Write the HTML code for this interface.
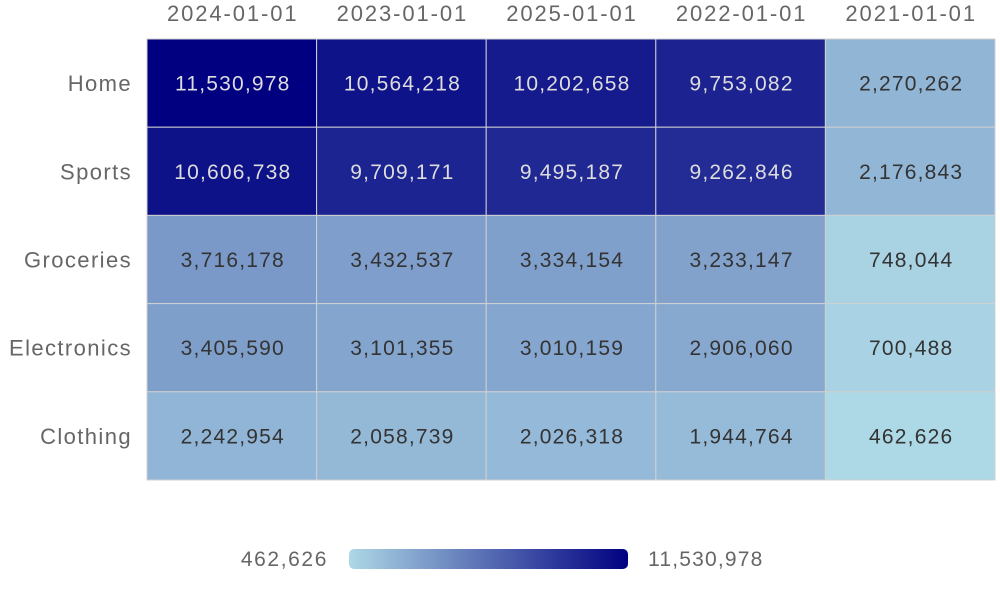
<!DOCTYPE html>
<html><head><meta charset="utf-8"><style>
body{margin:0;width:1000px;height:600px;background:#fff;font-family:"Liberation Sans",sans-serif;overflow:hidden}
</style></head><body>
<svg id="s" width="1000" height="600" xmlns="http://www.w3.org/2000/svg" font-family="Liberation Sans, sans-serif">
<defs><linearGradient id="g"><stop offset="0" stop-color="#add8e6"/><stop offset="1" stop-color="#000080"/></linearGradient></defs>
<rect x="349" y="549" width="279" height="20" rx="5" fill="url(#g)"/>
<text x="328" y="566" text-anchor="end" font-size="21" letter-spacing="1.6" fill="#666">462,626</text>
<text x="648" y="566" font-size="21" letter-spacing="1.2" fill="#666">11,530,978</text>
</svg>
<script>
var cols=["2024-01-01","2023-01-01","2025-01-01","2022-01-01","2021-01-01"];
var rows=["Home","Sports","Groceries","Electronics","Clothing"];
var d=[[11530978,10564218,10202658,9753082,2270262],[10606738,9709171,9495187,9262846,2176843],[3716178,3432537,3334154,3233147,748044],[3405590,3101355,3010159,2906060,700488],[2242954,2058739,2026318,1944764,462626]];
var mn=462626,mx=11530978,x0=147,y0=39,cw=169.6,rh=88.2,s="";
for(var c=0;c<5;c++)s+='<text x="'+(x0+cw*c+cw/2+1)+'" y="21" text-anchor="middle" font-size="22" letter-spacing="1.9" fill="#666">'+cols[c]+'</text>';
for(var r=0;r<5;r++){
 s+='<text x="132" y="'+(y0+rh*r+rh/2+8)+'" text-anchor="end" font-size="22" letter-spacing="1.4" fill="#666">'+rows[r]+'</text>';
 for(var c=0;c<5;c++){var v=d[r][c],t=(v-mn)/(mx-mn);
  var col='rgb('+Math.round(173-173*t)+','+Math.round(216-216*t)+','+Math.round(230-102*t)+')';
  s+='<rect x="'+(x0+cw*c)+'" y="'+(y0+rh*r)+'" width="'+cw+'" height="'+rh+'" fill="'+col+'" stroke="#d0d0d0" stroke-width="1"/>';
  s+='<text x="'+(x0+cw*c+cw/2+1)+'" y="'+(y0+rh*r+rh/2+7.5)+'" text-anchor="middle" font-size="21" letter-spacing="1.2" fill="'+(t>0.5?'#ddd':'#333')+'">'+v.toLocaleString('en-US')+'</text>';}
}
document.getElementById('s').insertAdjacentHTML('beforeend',s);
</script>
</body></html>
